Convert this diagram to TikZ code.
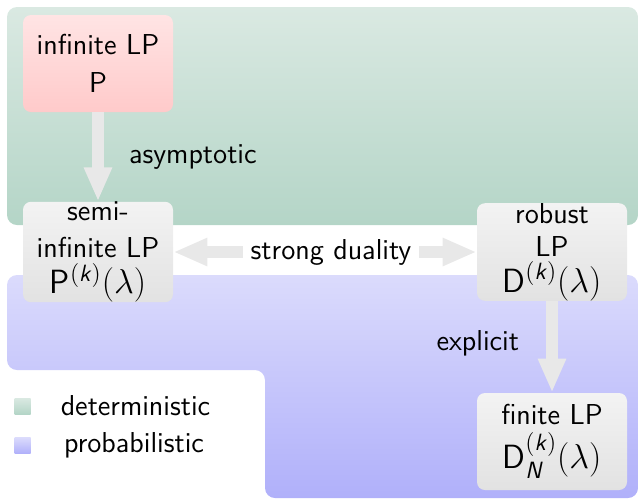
\documentclass[tikz,border=0pt]{standalone}
\usepackage{amsmath}
\usetikzlibrary{arrows.meta}
\definecolor{grnT}{RGB}{218,233,226}
\definecolor{grnB}{RGB}{180,213,199}
\definecolor{purT}{RGB}{219,219,252}
\definecolor{purB}{RGB}{176,176,250}
\definecolor{pnkT}{RGB}{255,228,228}
\definecolor{pnkB}{RGB}{255,202,202}
\definecolor{gryT}{RGB}{243,243,243}
\definecolor{gryB}{RGB}{226,226,226}
\definecolor{arrc}{RGB}{232,232,232}
\newcommand{\sfk}{\textsf{\textit{k}}}
\newcommand{\sfN}{\textsf{\textit{N}}}
\newcommand{\mathline}[1]{{\fontsize{16.8}{18}\selectfont #1}}
\begin{document}
\begin{tikzpicture}[x=0.5pt,y=-0.5pt,
  font=\sffamily\fontsize{14.4}{18}\selectfont,
  box/.style={rounded corners=4pt, minimum width=75pt, minimum height=48.5pt, align=center, inner sep=0pt, top color=gryT, bottom color=gryB},
  pinkbox/.style={box, top color=pnkT, bottom color=pnkB},
  bigarrow/.style={draw=arrc, line width=6pt, -{Triangle[length=17pt,width=13pt]}},
  dblarrow/.style={draw=arrc, line width=6pt, {Triangle[length=17pt,width=13pt]}-{Triangle[length=17pt,width=13pt]}},
  lbl/.style={inner sep=0pt},
  legsq/.style={minimum size=8pt, inner sep=0pt}
]
\useasboundingbox (0,0) rectangle (638,500);
% regions
\path[top color=grnT, bottom color=grnB, rounded corners=5pt] (7,7) rectangle (638,225);
\path[top color=purT, bottom color=purB, rounded corners=5pt]
  (7,275) -- (638,275) -- (638,498) -- (265,498) -- (265,370) -- (7,370) -- cycle;
% nodes
\node[pinkbox] (P) at (98,63.5) {infinite LP\\[1pt]P};
\node[box] (S) at (98,252) {semi-\\[0.5pt]infinite LP\\\mathline{P$^{(\sfk)}(\lambda)$}};
\node[box] (R) at (552,252) {robust\\[-1.5pt]LP\\\mathline{D$^{(\sfk)}(\lambda)$}};
\node[box] (F) at (552,441.5) {finite LP\\[3pt]\mathline{D$^{(\sfk)}_{\sfN}(\lambda)$}};
% connectors
\draw[bigarrow] (P.south) -- (S.north)
  node[lbl, midway, anchor=west, xshift=12.5pt] (lasym) {asymptotic};
\draw[dblarrow] (S.east) -- (R.west)
  node[midway, fill=white, inner sep=4pt, xshift=3pt] (ldual) {strong duality};
\draw[bigarrow] (R.south) -- (F.north)
  node[lbl, midway, anchor=east, xshift=-13.5pt, yshift=2pt] (lexp) {explicit};
% legend
\node[legsq, top color=grnT, bottom color=grnB] (sqdet) at (22.5,406) {};
\node[legsq, top color=purT, bottom color=purB] (sqprob) at (22.5,445.5) {};
\node[anchor=base, inner sep=0pt] (tdet) at (135.5,415) {deterministic};
\node[anchor=base, inner sep=0pt] (tprob) at (134,452) {probabilistic};
\end{tikzpicture}
\end{document}
